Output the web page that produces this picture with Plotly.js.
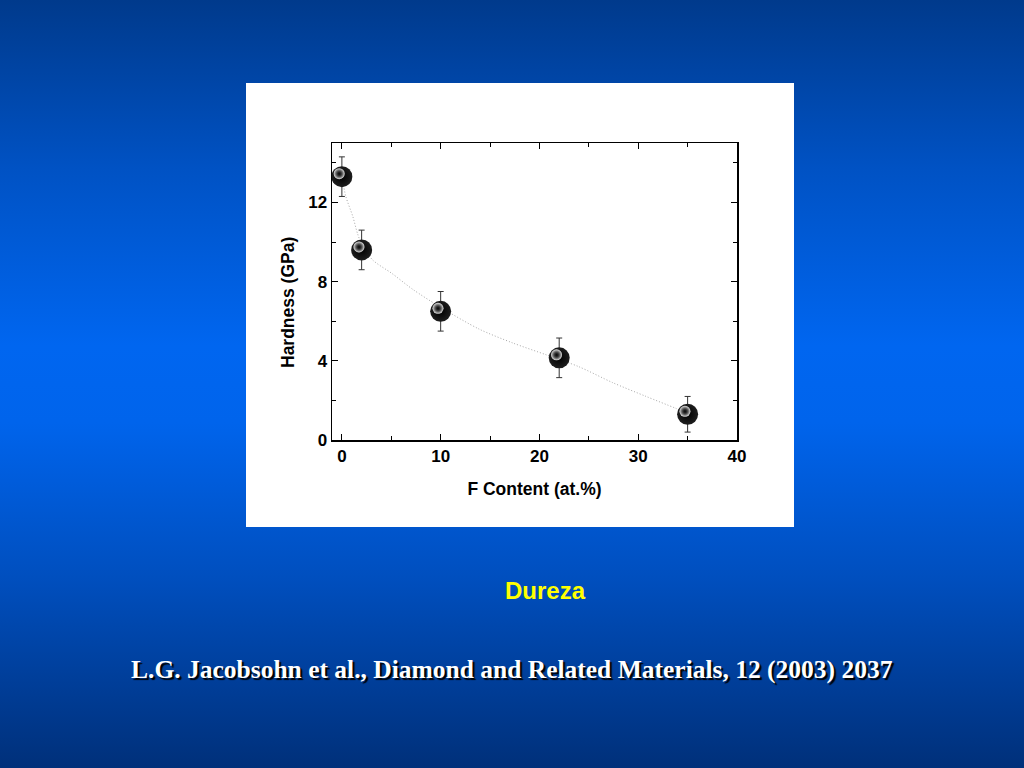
<!DOCTYPE html>
<html>
<head>
<meta charset="utf-8">
<script src="https://cdn.plot.ly/plotly-3.0.1.min.js"></script>
<style>
html,body{margin:0;padding:0;width:1024px;height:768px;overflow:hidden;}
body{background:linear-gradient(to bottom,#003a8c 0%,#0052c4 22%,#0066f0 45%,#0064ec 55%,#004fbf 75%,#00307a 100%);}
#chart{width:1024px;height:768px;}
</style>
</head>
<body>
<div id="chart"></div>
<script>
// Data
const fContent = [0, 2, 10, 22, 35];
const hardness = [13.3, 9.6, 6.5, 4.15, 1.3];
const hardnessErr = [1.0, 1.0, 1.0, 1.0, 0.9];

// Dotted guide curve
const fitX = [0, 0.4, 1.1, 1.6, 2, 3.1, 5.1, 7.2, 10, 13.9, 17.3, 20.7, 24, 27.4, 30.8, 33.8, 35];
const fitY = [13.3, 12.3, 11.3, 10.4, 9.9, 9.1, 8.4, 7.6, 6.7, 5.6, 4.9, 4.3, 3.7, 2.9, 2.2, 1.6, 1.35];

const xTitle = 'F Content (at.%)';
const yTitle = 'Hardness (GPa)';
const caption = 'Dureza';
const citation = 'L.G. Jacobsohn et al., Diamond and Related Materials, 12 (2003) 2037';

const tickFont = {family: 'Liberation Sans, Arial, sans-serif', size: 17, color: '#000', weight: 'bold'};
const titleFont = {family: 'Liberation Sans, Arial, sans-serif', size: 17.5, color: '#000', weight: 'bold'};

const traces = [
  {
    x: fitX, y: fitY, mode: 'lines', type: 'scatter',
    line: {color: '#a8a8a8', width: 1, dash: '1px,2px', shape: 'spline', smoothing: 0.8},
    hoverinfo: 'skip', showlegend: false
  },
  {
    x: fContent, y: hardness, mode: 'markers', type: 'scatter',
    error_y: {type: 'data', array: hardnessErr, visible: true, color: '#333', thickness: 1, width: 3},
    marker: {size: 21, color: '#1e1e1e', gradient: {type: 'radial', color: '#000'}, line: {width: 0}},
    showlegend: false
  },
  {
    x: fContent.map(v => v - 0.27), y: hardness.map(v => v + 0.15), mode: 'markers', type: 'scatter',
    marker: {size: 11, color: '#e8e8e8', gradient: {type: 'radial', color: 'rgba(60,60,60,0)'}, line: {width: 0}},
    hoverinfo: 'skip', showlegend: false
  }
];

const L = 332, R = 737, T = 143, B = 440;
const W = R - L, H = B - T;
const px = v => (v - L) / W;
const py = v => (B - v) / H;

const layout = {
  width: 1024, height: 768,
  margin: {l: L, r: 1024 - R, t: T, b: 768 - B, pad: 0},
  paper_bgcolor: 'rgba(0,0,0,0)',
  plot_bgcolor: '#fff',
  xaxis: {
    range: [-1, 40], tickvals: [0, 10, 20, 30, 40],
    ticks: 'inside', ticklen: 6, tickwidth: 1, tickcolor: '#000',
    minor: {dtick: 5, tick0: 0, ticks: 'inside', ticklen: 4, tickcolor: '#000'},
    mirror: 'ticks', showline: true, linecolor: '#000', linewidth: 1.5,
    showgrid: false, zeroline: false,
    tickfont: tickFont,
    title: {text: xTitle, font: titleFont, standoff: 18}
  },
  yaxis: {
    range: [0, 15], tickvals: [0, 4, 8, 12],
    ticks: 'inside', ticklen: 6, tickwidth: 1, tickcolor: '#000',
    minor: {dtick: 2, tick0: 0, ticks: 'inside', ticklen: 4, tickcolor: '#000'},
    mirror: 'ticks', showline: true, linecolor: '#000', linewidth: 1.5,
    showgrid: false, zeroline: false,
    tickfont: tickFont
  },
  shapes: [
    {type: 'rect', xref: 'paper', yref: 'paper', layer: 'below',
     x0: px(246), x1: px(794), y0: py(527), y1: py(83),
     fillcolor: '#fff', line: {width: 0}}
  ],
  annotations: [
    {text: yTitle, xref: 'paper', yref: 'paper', x: px(288), y: py(303),
     textangle: -90, showarrow: false, xanchor: 'center', yanchor: 'middle', font: titleFont},
    {text: caption, xref: 'paper', yref: 'paper', x: px(545), y: py(590),
     showarrow: false, xanchor: 'center', yanchor: 'middle',
     font: {family: 'Liberation Sans, Arial, sans-serif', size: 24, color: '#ffff00', weight: 'bold'}},
    {text: citation, xref: 'paper', yref: 'paper', x: px(512), y: py(669),
     showarrow: false, xanchor: 'center', yanchor: 'middle',
     font: {family: 'Liberation Serif, Times New Roman, serif', size: 25.5, color: '#ffffff', weight: 'bold',
            shadow: '2px 2px 1px #000'}}
  ]
};

Plotly.newPlot('chart', traces, layout, {displayModeBar: false, staticPlot: true});
</script>
</body>
</html>
